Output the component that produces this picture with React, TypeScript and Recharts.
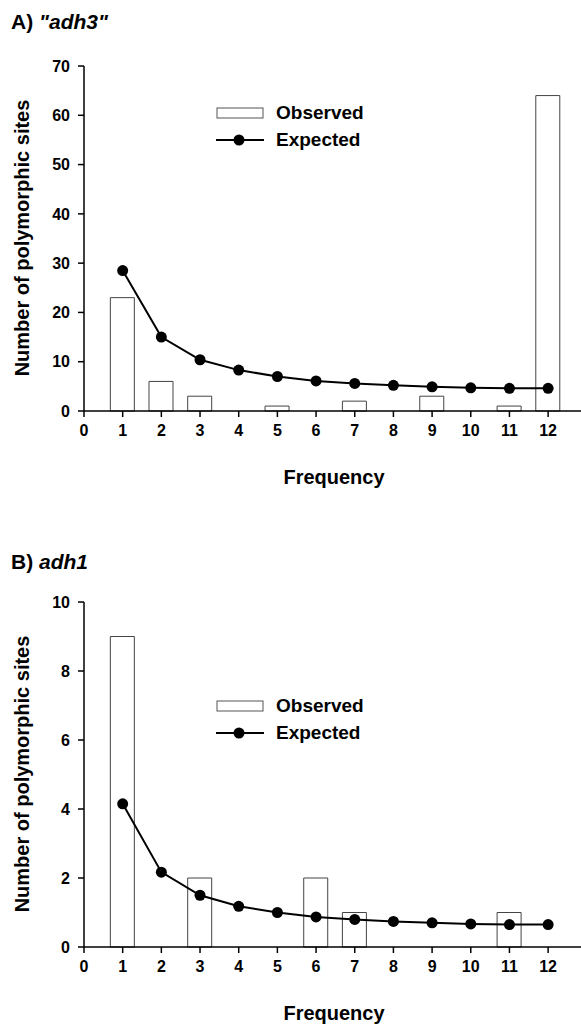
import React from 'react';
import {
  ComposedChart,
  Bar,
  Line,
  XAxis,
  YAxis,
  Legend,
} from 'recharts';

const frequency = [1, 2, 3, 4, 5, 6, 7, 8, 9, 10, 11, 12];
const xTicks = [0, 1, 2, 3, 4, 5, 6, 7, 8, 9, 10, 11, 12];

// panel A: "adh3"
const observedA = [23, 6, 3, 0, 1, 0, 2, 0, 3, 0, 1, 64];
const expectedA = [28.5, 15, 10.4, 8.3, 7, 6.1, 5.6, 5.2, 4.9, 4.7, 4.6, 4.6];
const yTicksA = [0, 10, 20, 30, 40, 50, 60, 70];

// panel B: adh1
const observedB = [9, 0, 2, 0, 0, 2, 1, 0, 0, 0, 1, 0];
const expectedB = [4.15, 2.17, 1.5, 1.18, 1.0, 0.87, 0.8, 0.74, 0.7, 0.67, 0.65, 0.65];
const yTicksB = [0, 2, 4, 6, 8, 10];

const FONT = '"Liberation Sans", Arial, Helvetica, sans-serif';
const tickStyle = { fontSize: 16, fontWeight: 700, fill: '#000', fontFamily: FONT };

const renderLegend = () => (
  <div style={{ fontFamily: FONT, fontWeight: 700, fontSize: 19, color: '#000', lineHeight: '27px' }}>
    <div style={{ display: 'flex', alignItems: 'center' }}>
      <svg width={48} height={14} style={{ marginRight: 12 }}>
        <rect x={1} y={2} width={46} height={10} fill="#fff" stroke="#555" strokeWidth={1} />
      </svg>
      Observed
    </div>
    <div style={{ display: 'flex', alignItems: 'center' }}>
      <svg width={48} height={14} style={{ marginRight: 12 }}>
        <line x1={0} y1={7} x2={48} y2={7} stroke="#000" strokeWidth={2} />
        <circle cx={23} cy={7} r={5.5} fill="#000" />
      </svg>
      Expected
    </div>
  </div>
);

function Panel({ top, title, titleTop, observed, expected, yMax, yTicks, legendTop }) {
  const data = frequency.map((f, i) => ({ f, observed: observed[i], expected: expected[i] }));
  return (
    <div style={{ position: 'absolute', top, left: 0, width: 581, height: 480 }}>
      <div style={{ position: 'absolute', left: 11, top: titleTop, fontFamily: FONT, fontWeight: 700, fontSize: 21 }}>
        {title}
      </div>
      <div
        style={{
          position: 'absolute',
          left: 22,
          top: 238,
          transform: 'translate(-50%, -50%) rotate(-90deg)',
          whiteSpace: 'nowrap',
          fontFamily: FONT,
          fontWeight: 700,
          fontSize: 20,
        }}
      >
        Number of polymorphic sites
      </div>
      <div
        style={{
          position: 'absolute',
          left: 334,
          top: 477,
          transform: 'translate(-50%, -50%)',
          fontFamily: FONT,
          fontWeight: 700,
          fontSize: 20,
        }}
      >
        Frequency
      </div>
      <ComposedChart width={581} height={480} data={data} margin={{ top: 66, right: 0, bottom: 39, left: 0 }}>
        <XAxis
          dataKey="f"
          type="number"
          domain={[0, 12.85]}
          ticks={xTicks}
          allowDataOverflow
          tick={tickStyle}
          tickSize={6}
          tickMargin={8}
          height={30}
          axisLine={{ stroke: '#000', strokeWidth: 1.5 }}
          tickLine={{ stroke: '#000', strokeWidth: 1.5 }}
          padding={{ left: 0, right: 0 }}
        />
        <YAxis
          type="number"
          domain={[0, yMax]}
          ticks={yTicks}
          width={84}
          tick={tickStyle}
          tickSize={6}
          tickMargin={8}
          axisLine={{ stroke: '#000', strokeWidth: 1.5 }}
          tickLine={{ stroke: '#000', strokeWidth: 1.5 }}
        />
        <Legend
          content={renderLegend}
          layout="horizontal"
          verticalAlign="middle"
          align="center"
          wrapperStyle={{ left: 216, top: legendTop, width: 'auto' }}
        />
        <Bar dataKey="observed" barSize={24} fill="#fff" stroke="#444" strokeWidth={1} isAnimationActive={false} />
        <Line
          dataKey="expected"
          type="linear"
          stroke="#000"
          strokeWidth={2}
          dot={{ r: 5.5, fill: '#000', stroke: '#000', strokeWidth: 0 }}
          isAnimationActive={false}
        />
      </ComposedChart>
    </div>
  );
}

export default function App() {
  return (
    <div style={{ position: 'absolute', top: 0, left: 0, width: 581, height: 1027, background: '#fff' }}>
      <Panel
        top={0}
        titleTop={10}
        title={<span>A) <i>"adh3"</i></span>}
        observed={observedA}
        expected={expectedA}
        yMax={70}
        yTicks={yTicksA}
        legendTop={99}
      />
      <Panel
        top={536}
        titleTop={14}
        title={<span>B) <i>adh1</i></span>}
        observed={observedB}
        expected={expectedB}
        yMax={10}
        yTicks={yTicksB}
        legendTop={156}
      />
    </div>
  );
}
